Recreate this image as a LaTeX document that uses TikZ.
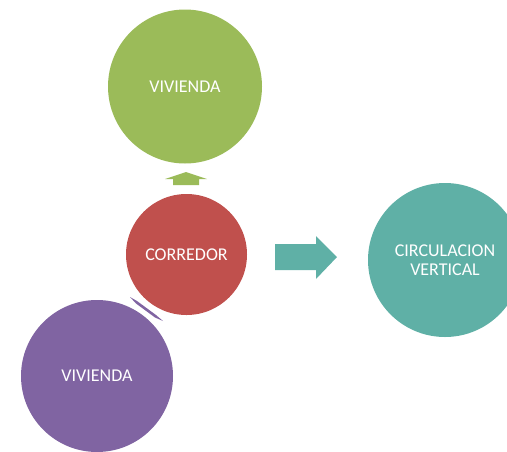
\documentclass[tikz,border=0pt]{standalone}
\usepackage{fontspec}
\setmainfont{Carlito}
\definecolor{cgreen}{HTML}{9BBB59}
\definecolor{cred}{HTML}{C0504D}
\definecolor{cteal}{HTML}{5FB0A6}
\definecolor{cpurple}{HTML}{8064A2}
\begin{document}
\begin{tikzpicture}[x=1pt,y=-1pt,
  bubble/.style={circle,inner sep=0pt,text=white,font=\fontsize{18}{21}\selectfont,align=center}]
\useasboundingbox (0,0) rectangle (507,451);
\clip (0,0) rectangle (507,451);
\node[bubble,fill=cgreen,minimum size=154pt] (viv1) at (185,86.5) {VIVIENDA};
\node[bubble,fill=cred,minimum size=121pt] (corr) at (186.5,254.5) {CORREDOR};
\node[bubble,fill=cteal,minimum size=154pt] (circ) at (445,260) {CIRCULACION\\[-2pt]VERTICAL};
\node[bubble,fill=cpurple,minimum size=152pt] (viv2) at (97,376) {VIVIENDA};
% green up arrow
\fill[cgreen] (173,185) -- (173,179) -- (165,179) -- (186,172) -- (207,179) -- (199,179) -- (199,185) -- cycle;
% teal right arrow
\fill[cteal] (275,244) -- (316,244) -- (316,236) -- (337,257) -- (316,279) -- (316,270) -- (275,270) -- cycle;
% purple thin arrow
\fill[cpurple] (130,297) -- (137,301) -- (156,315) -- (163,321) -- (155,317.5) -- (136,303.5) -- cycle;
\end{tikzpicture}
\end{document}
